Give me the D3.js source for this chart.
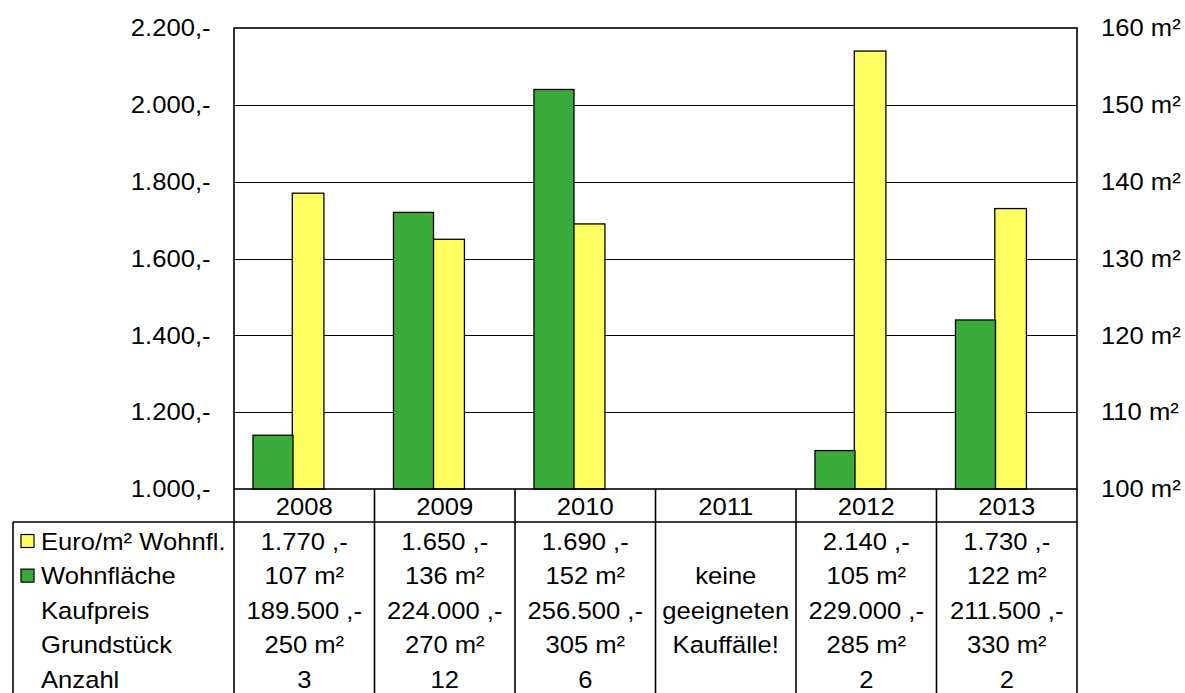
<!DOCTYPE html>
<html>
<head>
<meta charset="utf-8">
<script src="https://cdn.jsdelivr.net/npm/d3@7"></script>
<style>
  html, body { margin: 0; padding: 0; background: #fff; }
  svg { display: block; }
  text { font-family: "Liberation Sans", Arial, sans-serif; font-size: 23.5px; fill: #000; }
</style>
</head>
<body>
<svg id="chart" width="1185" height="693"></svg>
<script>
// Yearly figures
const years = ["2008", "2009", "2010", "2011", "2012", "2013"];
const euroPerM2 = [1770, 1650, 1690, null, 2140, 1730];   // Euro/m² Wohnfläche (left axis)
const wohnflaeche = [107, 136, 152, null, 105, 122];       // Wohnfläche in m² (right axis)
const kaufpreis = [189500, 224000, 256500, null, 229000, 211500];
const grundstueck = [250, 270, 305, null, 285, 330];
const anzahl = [3, 12, 6, null, 2, 2];

// Axis ticks and labels
const leftTicks = [1000, 1200, 1400, 1600, 1800, 2000, 2200];
const leftTickLabels = ["1.000,-", "1.200,-", "1.400,-", "1.600,-", "1.800,-", "2.000,-", "2.200,-"];
const rightTicks = [100, 110, 120, 130, 140, 150, 160];
const rightTickLabels = ["100 m²", "110 m²", "120 m²", "130 m²", "140 m²", "150 m²", "160 m²"];

// Table rows
const rowNames = ["Euro/m² Wohnfl.", "Wohnfläche", "Kaufpreis", "Grundstück", "Anzahl"];
const noDataText = ["", "keine", "geeigneten", "Kauffälle!", ""];

const colors = { euro: "#ffff62", flaeche: "#3aaa3a" };
const SX = 1.09; // horizontal text stretch

const de = d3.formatLocale({ decimal: ",", thousands: ".", grouping: [3], currency: ["", ""] });
const fmtInt = de.format(",");

const svg = d3.select("#chart");
svg.append("rect").attr("width", 1185).attr("height", 693).attr("fill", "#fff");

const plot = { left: 234, right: 1077, top: 28, bottom: 489 };
const tableTop = 522, tableLeft = 13, tableBottom = 693;

const x = d3.scaleBand().domain(years).range([plot.left, plot.right]);
const yL = d3.scaleLinear().domain([1000, 2200]).range([plot.bottom, plot.top]);
const yR = d3.scaleLinear().domain([100, 160]).range([plot.bottom, plot.top]);
const rowY = d3.scalePoint().domain(rowNames).range([541.5, 680]);

function label(g, px, py, s, anchor) {
  return g.append("text")
    .attr("transform", `translate(${px},${py}) scale(${SX},1)`)
    .attr("text-anchor", anchor)
    .text(s);
}

// Horizontal gridlines
svg.append("g").selectAll("line")
  .data(leftTicks.slice(1, -1))
  .join("line")
  .attr("x1", plot.left).attr("x2", plot.right)
  .attr("y1", d => Math.round(yL(d)) + 0.5).attr("y2", d => Math.round(yL(d)) + 0.5)
  .attr("stroke", "#000").attr("stroke-width", 1);

// Bars: yellow (Euro/m²) behind, green (Wohnfläche) in front
const bw = x.bandwidth();
const bars = svg.append("g");
bars.selectAll("rect.euro")
  .data(years.map((yr, i) => ({ yr, v: euroPerM2[i] })).filter(d => d.v != null))
  .join("rect")
  .attr("class", "euro")
  .attr("x", d => x(d.yr) + bw * 0.415)
  .attr("width", bw * 0.225)
  .attr("y", d => yL(d.v))
  .attr("height", d => yL(1000) - yL(d.v))
  .attr("fill", colors.euro).attr("stroke", "#000").attr("stroke-width", 1.3);
bars.selectAll("rect.flaeche")
  .data(years.map((yr, i) => ({ yr, v: wohnflaeche[i] })).filter(d => d.v != null))
  .join("rect")
  .attr("class", "flaeche")
  .attr("x", d => x(d.yr) + bw * 0.135)
  .attr("width", bw * 0.285)
  .attr("y", d => yR(d.v))
  .attr("height", d => yR(100) - yR(d.v))
  .attr("fill", colors.flaeche).attr("stroke", "#000").attr("stroke-width", 1.3);

// Plot frame
svg.append("rect")
  .attr("x", plot.left).attr("y", plot.top)
  .attr("width", plot.right - plot.left).attr("height", plot.bottom - plot.top)
  .attr("fill", "none").attr("stroke", "#000").attr("stroke-width", 1.6);

// Left axis (Euro)
const axL = svg.append("g").attr("transform", `translate(${plot.left},0)`)
  .call(d3.axisLeft(yL).tickValues(leftTicks).tickSize(0).tickPadding(21.5)
    .tickFormat((d, i) => leftTickLabels[i]));
axL.select(".domain").remove();
axL.selectAll("text").attr("font-size", null).attr("font-family", null)
  .attr("transform", `scale(${SX},1)`).attr("dy", "0.33em");

// Right axis (m²)
const axR = svg.append("g").attr("transform", `translate(${plot.right},0)`)
  .call(d3.axisRight(yR).tickValues(rightTicks).tickSize(0).tickPadding(22)
    .tickFormat((d, i) => rightTickLabels[i]));
axR.select(".domain").remove();
axR.selectAll("text").attr("font-size", null).attr("font-family", null)
  .attr("transform", `scale(${SX},1)`).attr("dy", "0.33em");

// Data table grid
const grid = svg.append("g").attr("stroke", "#000").attr("stroke-width", 1.6);
grid.append("line").attr("x1", tableLeft).attr("x2", plot.right)
  .attr("y1", tableTop).attr("y2", tableTop);
grid.append("line").attr("x1", tableLeft).attr("x2", tableLeft)
  .attr("y1", tableTop).attr("y2", tableBottom + 5);
grid.selectAll("line.col")
  .data(years.concat(["end"]))
  .join("line")
  .attr("class", "col")
  .attr("x1", d => d === "end" ? plot.right : x(d))
  .attr("x2", d => d === "end" ? plot.right : x(d))
  .attr("y1", plot.bottom).attr("y2", tableBottom + 5);

// Category labels
const cat = svg.append("g");
years.forEach(yr => label(cat, x(yr) + bw / 2, 515, yr, "middle"));

// Row labels with legend keys
const rows = svg.append("g");
rowNames.forEach(r => label(rows, 41, rowY(r) + 8, r, "start"));
rows.append("rect").attr("x", 21).attr("y", rowY(rowNames[0]) - 7).attr("width", 13).attr("height", 13)
  .attr("fill", colors.euro).attr("stroke", "#000").attr("stroke-width", 1.2);
rows.append("rect").attr("x", 21).attr("y", rowY(rowNames[1]) - 7).attr("width", 13).attr("height", 13)
  .attr("fill", colors.flaeche).attr("stroke", "#000").attr("stroke-width", 1.2);

// Cell values
const cells = svg.append("g");
years.forEach((yr, i) => {
  const cx = x(yr) + bw / 2;
  if (euroPerM2[i] == null) {
    noDataText.forEach((t, k) => { if (t) label(cells, cx, rowY(rowNames[k]) + 8, t, "middle"); });
    return;
  }
  const vals = [
    fmtInt(euroPerM2[i]) + " ,-",
    wohnflaeche[i] + " m²",
    fmtInt(kaufpreis[i]) + " ,-",
    grundstueck[i] + " m²",
    String(anzahl[i])
  ];
  vals.forEach((t, k) => label(cells, cx, rowY(rowNames[k]) + 8, t, "middle"));
});
</script>
</body>
</html>
